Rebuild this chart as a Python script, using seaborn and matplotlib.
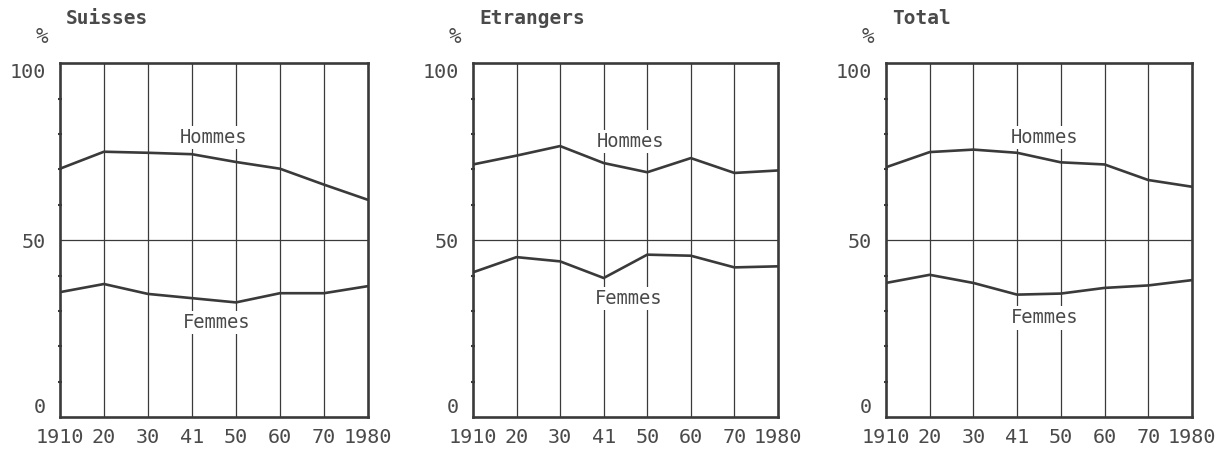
""" Part des actifs par sexe, 1910-1980: Suisses, Etrangers, Total. """
import pandas as pd
import matplotlib.pyplot as plt
import seaborn as sns

# Data
years = ["1910", "20", "30", "41", "50", "60", "70", "1980"]
panels = ["Suisses", "Etrangers", "Total"]

suisses_hommes = [70.2, 75.0, 74.7, 74.3, 72.1, 70.2, 65.7, 61.4]
suisses_femmes = [35.3, 37.6, 34.8, 33.6, 32.4, 35.0, 35.0, 37.0]
etrangers_hommes = [71.4, 73.9, 76.6, 71.8, 69.2, 73.2, 69.0, 69.7]
etrangers_femmes = [40.9, 45.2, 44.0, 39.3, 45.9, 45.6, 42.3, 42.6]
total_hommes = [70.6, 74.9, 75.6, 74.7, 72.0, 71.4, 67.0, 65.1]
total_femmes = [37.9, 40.2, 37.9, 34.6, 34.9, 36.5, 37.2, 38.7]

series = {
    "Suisses": (suisses_hommes, suisses_femmes),
    "Etrangers": (etrangers_hommes, etrangers_femmes),
    "Total": (total_hommes, total_femmes),
}

# Label placement (x index, y value) for Hommes / Femmes in each panel
label_pos = {
    "Suisses": ((3.5, 79.0), (3.57, 26.8)),
    "Etrangers": ((3.62, 78.0), (3.58, 33.6)),
    "Total": ((3.62, 79.0), (3.64, 28.0)),
}

sns.set_style("white")
plt.rcParams["font.family"] = ["DejaVu Sans Mono", "DejaVu Sans"]

INK = "#3a3a3a"
TXT = "#4a4a4a"

fig = plt.figure(figsize=(12.31, 4.57), dpi=100)
lefts = [0.0487, 0.3842, 0.7197]
widths = [0.2502, 0.2478, 0.2486]
bottom, height = 0.0875, 0.774

for i, name in enumerate(panels):
    ax = fig.add_axes([lefts[i], bottom, widths[i], height])
    hommes, femmes = series[name]
    df = pd.DataFrame({
        "x": list(range(len(years))) * 2,
        "pct": hommes + femmes,
        "sexe": ["Hommes"] * len(years) + ["Femmes"] * len(years),
    })
    sns.lineplot(
        data=df, x="x", y="pct", hue="sexe",
        palette={"Hommes": INK, "Femmes": INK},
        linewidth=1.9, legend=False, ax=ax, zorder=3,
    )
    ax.set_xlim(0, len(years) - 1)
    ax.set_ylim(0, 100)
    ax.set_xticks(range(len(years)))
    ax.set_xticklabels(years)
    ax.set_yticks([0, 50, 100])
    ax.set_yticks(range(10, 100, 10), minor=True)
    ax.tick_params(axis="both", which="major", length=0,
                   labelsize=14.5, labelcolor=TXT)
    ax.tick_params(axis="x", which="major", pad=8)
    ax.tick_params(axis="y", which="major", pad=10)
    ax.tick_params(axis="y", which="minor", length=3, width=1.5,
                   direction="inout", color=INK, left=True)
    ylabels = ax.get_yticklabels()
    ylabels[0].set_verticalalignment("bottom")
    ylabels[2].set_verticalalignment("top")
    for x in range(1, len(years) - 1):
        ax.axvline(x, color=INK, linewidth=0.9, zorder=1)
    ax.axhline(50, color=INK, linewidth=0.9, zorder=1)
    for side in ax.spines.values():
        side.set_color(INK)
        side.set_linewidth(1.9)
    ax.set_xlabel("")
    ax.set_ylabel("")

    (hx, hy), (fx, fy) = label_pos[name]
    for (tx, ty), lab in (((hx, hy), "Hommes"), ((fx, fy), "Femmes")):
        ax.text(tx, ty, lab, ha="center", va="center", fontsize=13.5,
                color=TXT, zorder=4,
                bbox=dict(facecolor="white", edgecolor="none", pad=1.5))

    ax.text(0.02, 1.127, name, transform=ax.transAxes, ha="left",
            va="center", fontsize=14, fontweight="bold", color=TXT)
    ax.text(-0.06, 1.075, "%", transform=ax.transAxes, ha="center",
            va="center", fontsize=15, color=TXT, style="italic")

fig.savefig("out.png", dpi=100, facecolor="white")
